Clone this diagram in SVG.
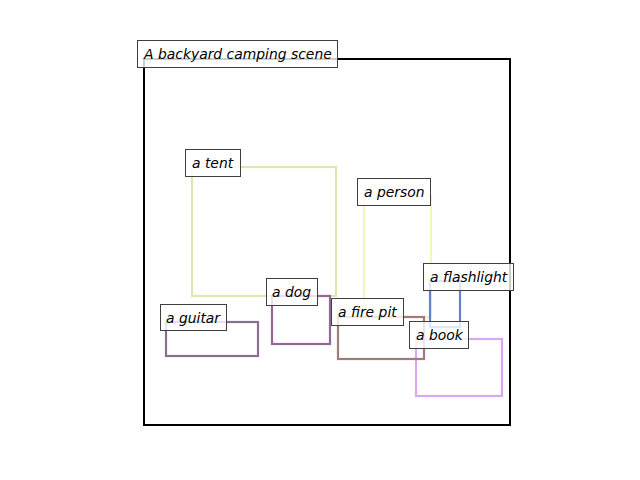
<svg xmlns="http://www.w3.org/2000/svg" width="640" height="480" viewBox="0 0 640 480">
  <style>
    .obj { fill: none; stroke-width: 2.2; stroke-linejoin: miter; }
    .lbl rect { fill: #ffffff; fill-opacity: 0.8; stroke: #3f3f3f; stroke-width: 1; }
    .lbl text { font-family: "DejaVu Sans", "Liberation Sans", sans-serif; font-style: italic; font-size: 13.9px; fill: #000; }
  </style>
  <rect width="640" height="480" fill="#ffffff"/>

  <!-- scene frame -->
  <rect id="frame" x="144" y="59" width="366" height="366" fill="none" stroke="#000" stroke-width="2"/>

  <!-- object outlines -->
  <g id="boxes">
    <rect id="tent" class="obj" x="192" y="167" width="144" height="129" stroke="#e2e5b0"/>
    <rect id="person" class="obj" x="364" y="196" width="67" height="121" stroke="#f5f4bc"/>
    <rect id="flashlight" class="obj" x="430" y="281" width="30" height="46" stroke="#6482cc"/>
    <rect id="book" class="obj" x="416" y="339" width="86" height="57" stroke="#dba6f2"/>
    <rect id="firepit" class="obj" x="338" y="317" width="86" height="42" stroke="#a37a78"/>
    <rect id="dog" class="obj" x="272" y="296" width="58" height="48" stroke="#956796"/>
    <rect id="guitar" class="obj" x="166" y="322" width="92" height="34" stroke="#8a6f8e"/>
  </g>

  <!-- labels -->
  <g id="label-title" class="lbl">
    <rect x="137.5" y="40.5" width="200" height="27"/>
    <text x="144" y="59">A backyard camping scene</text>
  </g>
  <g id="label-tent" class="lbl">
    <rect x="185.5" y="149.5" width="55" height="27"/>
    <text x="192" y="168">a tent</text>
  </g>
  <g id="label-person" class="lbl">
    <rect x="357.5" y="178.5" width="73" height="27"/>
    <text x="364" y="197">a person</text>
  </g>
  <g id="label-flashlight" class="lbl">
    <rect x="423.5" y="263.5" width="90" height="27"/>
    <text x="430" y="282">a flashlight</text>
  </g>
  <g id="label-book" class="lbl">
    <rect x="409.5" y="321.5" width="59" height="27"/>
    <text x="416" y="340">a book</text>
  </g>
  <g id="label-firepit" class="lbl">
    <rect x="331.5" y="298.5" width="72" height="27"/>
    <text x="338" y="317">a fire pit</text>
  </g>
  <g id="label-dog" class="lbl">
    <rect x="266.5" y="278.5" width="51" height="27"/>
    <text x="272" y="297">a dog</text>
  </g>
  <g id="label-guitar" class="lbl">
    <rect x="160.5" y="304.5" width="66" height="26"/>
    <text x="166" y="323">a guitar</text>
  </g>
</svg>
